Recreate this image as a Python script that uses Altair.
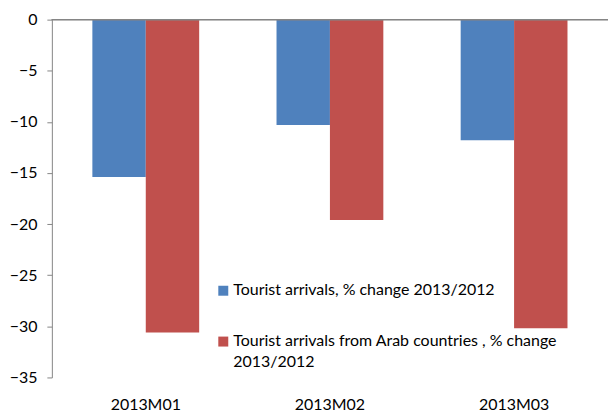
import altair as alt
import pandas as pd

months = ["2013M01", "2013M02", "2013M03"]
series = [
    "Tourist arrivals, % change 2013/2012",
    "Tourist arrivals from Arab countries , % change 2013/2012",
]
total_change = [-15.4, -10.3, -11.8]
arab_change = [-30.6, -19.6, -30.2]
colors = ["#4F81BD", "#C0504D"]
y_ticks = [0, -5, -10, -15, -20, -25, -30, -35]

rows = []
for i, m in enumerate(months):
    rows.append({"month": m, "series": series[0], "value": total_change[i]})
    rows.append({"month": m, "series": series[1], "value": arab_change[i]})
df = pd.DataFrame(rows)

FONT = "Lato"
DY = -9

label_expr = (
    "datum.label == '" + series[1] + "' ? "
    "['Tourist arrivals from Arab countries , % change', '2013/2012'] : datum.label"
)

bars = alt.Chart(df).mark_bar().encode(
    x=alt.X(
        "month:N",
        sort=months,
        title=None,
        scale=alt.Scale(paddingInner=0.42, paddingOuter=0.22),
        axis=alt.Axis(
            orient="bottom", domain=False, ticks=False, labelAngle=0,
            labelPadding=19 - DY, labelFontSize=16, labelColor="black", labelFont=FONT,
        ),
    ),
    xOffset=alt.XOffset("series:N", sort=series, scale=alt.Scale(paddingInner=0, paddingOuter=0)),
    y=alt.Y(
        "value:Q",
        title=None,
        scale=alt.Scale(domain=[-35, 0], nice=False),
        axis=alt.Axis(
            values=y_ticks, grid=False, domainColor="#868686", tickColor="#868686",
            tickSize=5, labelPadding=10, labelOffset=-DY,
            labelFontSize=16, labelColor="black", labelFont=FONT,
        ),
    ),
    color=alt.Color(
        "series:N",
        sort=series,
        scale=alt.Scale(domain=series, range=colors),
        legend=alt.Legend(
            title=None, orient="none", legendX=164, legendY=264,
            symbolType="square", symbolSize=100, symbolStrokeWidth=0,
            labelFontSize=16, labelFont=FONT, labelColor="black", labelLimit=500,
            labelExpr=label_expr, labelBaseline="top", labelOffset=2,
            rowPadding=35, direction="vertical",
        ),
    ),
)

zero = alt.Chart(df).mark_rule(color="#868686", strokeWidth=1).encode(y=alt.datum(0))

chart = (
    alt.layer(bars, zero)
    .properties(
        width=558, height=359,
        autosize=alt.AutoSizeParams(type="none"),
        padding={"left": 44, "top": 11, "right": 0, "bottom": 36},
    )
    .configure(
        view=alt.ViewConfig(strokeWidth=0),
        style={"guide-label": {"dy": DY, "lineHeight": 22}},
    )
)

chart.save("out.html", embed_options={"renderer": "svg", "actions": False})
